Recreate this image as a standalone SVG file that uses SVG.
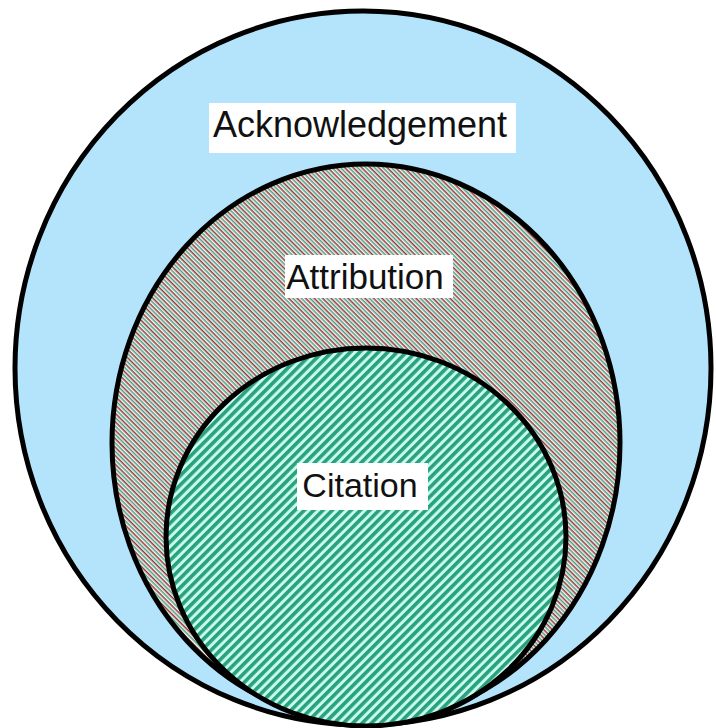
<svg xmlns="http://www.w3.org/2000/svg" width="716" height="728" viewBox="0 0 716 728">
<defs>
<pattern id="attrHatch" patternUnits="userSpaceOnUse" width="20" height="6" patternTransform="rotate(45)">
<rect width="20" height="6" fill="#f4f6ee"/>
<rect y="0" width="20" height="1.5" fill="#8e3b3b"/>
<rect y="3" width="20" height="1.5" fill="#4f9c8c"/>
</pattern>
<pattern id="citeHatch" patternUnits="userSpaceOnUse" width="20" height="6.6" patternTransform="rotate(-45)">
<rect width="20" height="6.6" fill="#c6fbef"/>
<rect y="0" width="20" height="3.6" fill="#2ba17b"/>
</pattern>
<style>
.ring{stroke:#000;stroke-width:5}
.lbl{font-family:"Liberation Sans",Arial,sans-serif;fill:#111;text-anchor:middle}
.box{fill:#fff}
</style>
</defs>
<rect width="716" height="728" fill="#fff"/>
<g id="acknowledgement">
<ellipse class="ring" cx="363" cy="368" rx="348" ry="357" fill="#b4e4fb"/>
<rect class="box" x="209" y="103" width="307" height="50"/>
<text class="lbl" x="360" y="137" font-size="36">Acknowledgement</text>
</g>
<g id="attribution">
<ellipse class="ring" cx="366" cy="443" rx="254" ry="279" fill="url(#attrHatch)"/>
<rect class="box" x="285" y="255" width="168" height="43"/>
<text class="lbl" x="365" y="289" font-size="35">Attribution</text>
</g>
<g id="citation">
<ellipse class="ring" cx="366" cy="537" rx="200" ry="189" fill="url(#citeHatch)"/>
<rect class="box" x="297" y="463" width="131" height="47"/>
<text class="lbl" x="360" y="497" font-size="34">Citation</text>
</g>
<g id="connectors"></g>
</svg>
